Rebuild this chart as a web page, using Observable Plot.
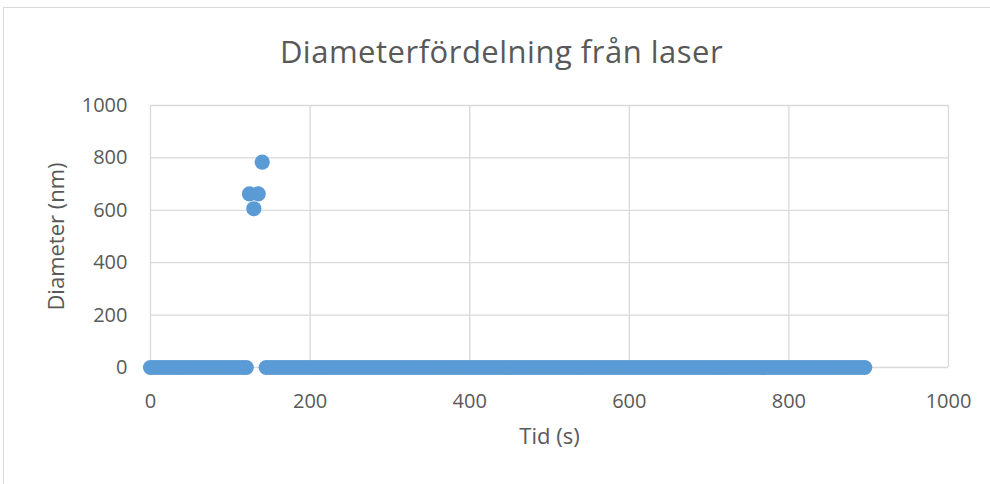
<!DOCTYPE html>
<html>
<head>
<meta charset="utf-8">
<script src="https://cdn.jsdelivr.net/npm/d3@7"></script>
<script src="https://cdn.jsdelivr.net/npm/@observablehq/plot@0.6"></script>
<style>
  html, body { margin: 0; padding: 0; background: #fff; }
  #wrap { position: relative; width: 990px; height: 484px; overflow: hidden; }
  #border { position: absolute; left: 3px; top: 7px; width: 1200px; height: 800px; border: 1px solid #d9d9d9; box-sizing: border-box; pointer-events: none; }
  #chart { position: absolute; left: 0; top: 0; }
</style>
</head>
<body>
<div id="wrap"><div id="border"></div><div id="chart"></div></div>
<script>
// Measurement times (s) where the laser reported no particles (diameter 0)
const zeroTimesA = [0, 5, 10, 15, 20, 25, 30, 35, 40, 45, 50, 55, 60, 65, 70, 75, 80, 85, 90, 95, 100, 105, 110, 115, 120];
const zeroTimesB = [145, 150, 155, 160, 165, 170, 175, 180, 185, 190, 195, 200, 205, 210, 215, 220, 225, 230, 235, 240,
  245, 250, 255, 260, 265, 270, 275, 280, 285, 290, 295, 300, 305, 310, 315, 320, 325, 330, 335, 340,
  345, 350, 355, 360, 365, 370, 375, 380, 385, 390, 395, 400, 405, 410, 415, 420, 425, 430, 435, 440,
  445, 450, 455, 460, 465, 470, 475, 480, 485, 490, 495, 500, 505, 510, 515, 520, 525, 530, 535, 540,
  545, 550, 555, 560, 565, 570, 575, 580, 585, 590, 595, 600, 605, 610, 615, 620, 625, 630, 635, 640,
  645, 650, 655, 660, 665, 670, 675, 680, 685, 690, 695, 700, 705, 710, 715, 720, 725, 730, 735, 740,
  745, 750, 755, 760, 765, 770, 775, 780, 785, 790, 795, 800, 805, 810, 815, 820, 825, 830, 835, 840,
  845, 850, 855, 860, 865, 870, 875, 880, 885, 890, 895];
// Measurements with detected particles
const peakTimes = [124, 129.5, 135, 140];
const peakDiameters = [663, 606, 663, 784];

const xTicks = [0, 200, 400, 600, 800, 1000];
const yTicks = [0, 200, 400, 600, 800, 1000];

const titleText = "Diameterfördelning från laser";
const xLabel = "Tid (s)";
const yLabel = "Diameter (nm)";

const data = [
  ...zeroTimesA.map(t => ({t, d: 0})),
  ...zeroTimesB.map(t => ({t, d: 0})),
  ...peakTimes.map((t, i) => ({t, d: peakDiameters[i]}))
];

const textColor = "#595959";
const gridColor = "#d9d9d9";
const font = "'Open Sans', 'Noto Sans', sans-serif";

const chart = Plot.plot({
  width: 990,
  height: 484,
  marginLeft: 150,
  marginRight: 42,
  marginTop: 105,
  marginBottom: 117,
  style: {fontFamily: font, color: textColor, background: "transparent", overflow: "visible"},
  x: {domain: [0, 1000]},
  y: {domain: [0, 1000]},
  marks: [
    Plot.gridX(xTicks, {stroke: gridColor, strokeOpacity: 1, strokeWidth: 1.3}),
    Plot.gridY(yTicks, {stroke: gridColor, strokeOpacity: 1, strokeWidth: 1.3}),
    Plot.axisX(xTicks, {tickSize: 0, tickPadding: 26, fontSize: 20, fill: textColor, label: null, tickFormat: d => String(d)}),
    Plot.axisY(yTicks, {tickSize: 0, tickPadding: 23, fontSize: 20, fill: textColor, label: null, tickFormat: d => String(d)}),
    Plot.dot(data, {x: "t", y: "d", r: 7.6, fill: "#5b9bd5", stroke: "none"}),
    Plot.text([titleText], {frameAnchor: "top", lineAnchor: "middle", dx: -48, dy: -52.6, fontSize: 31, fill: textColor, text: d => d}),
    Plot.text([xLabel], {frameAnchor: "bottom", lineAnchor: "middle", dy: 69.5, fontSize: 22, fill: textColor, text: d => d}),
    Plot.text([yLabel], {frameAnchor: "left", textAnchor: "middle", lineAnchor: "middle", dx: -94, rotate: -90, fontSize: 22, fill: textColor, text: d => d})
  ]
});
// Slightly open up the title's letter spacing
d3.select(chart).selectAll("text")
  .filter(function () { return this.textContent === titleText; })
  .attr("letter-spacing", "0.5px");
document.getElementById("chart").appendChild(chart);
</script>
</body>
</html>
